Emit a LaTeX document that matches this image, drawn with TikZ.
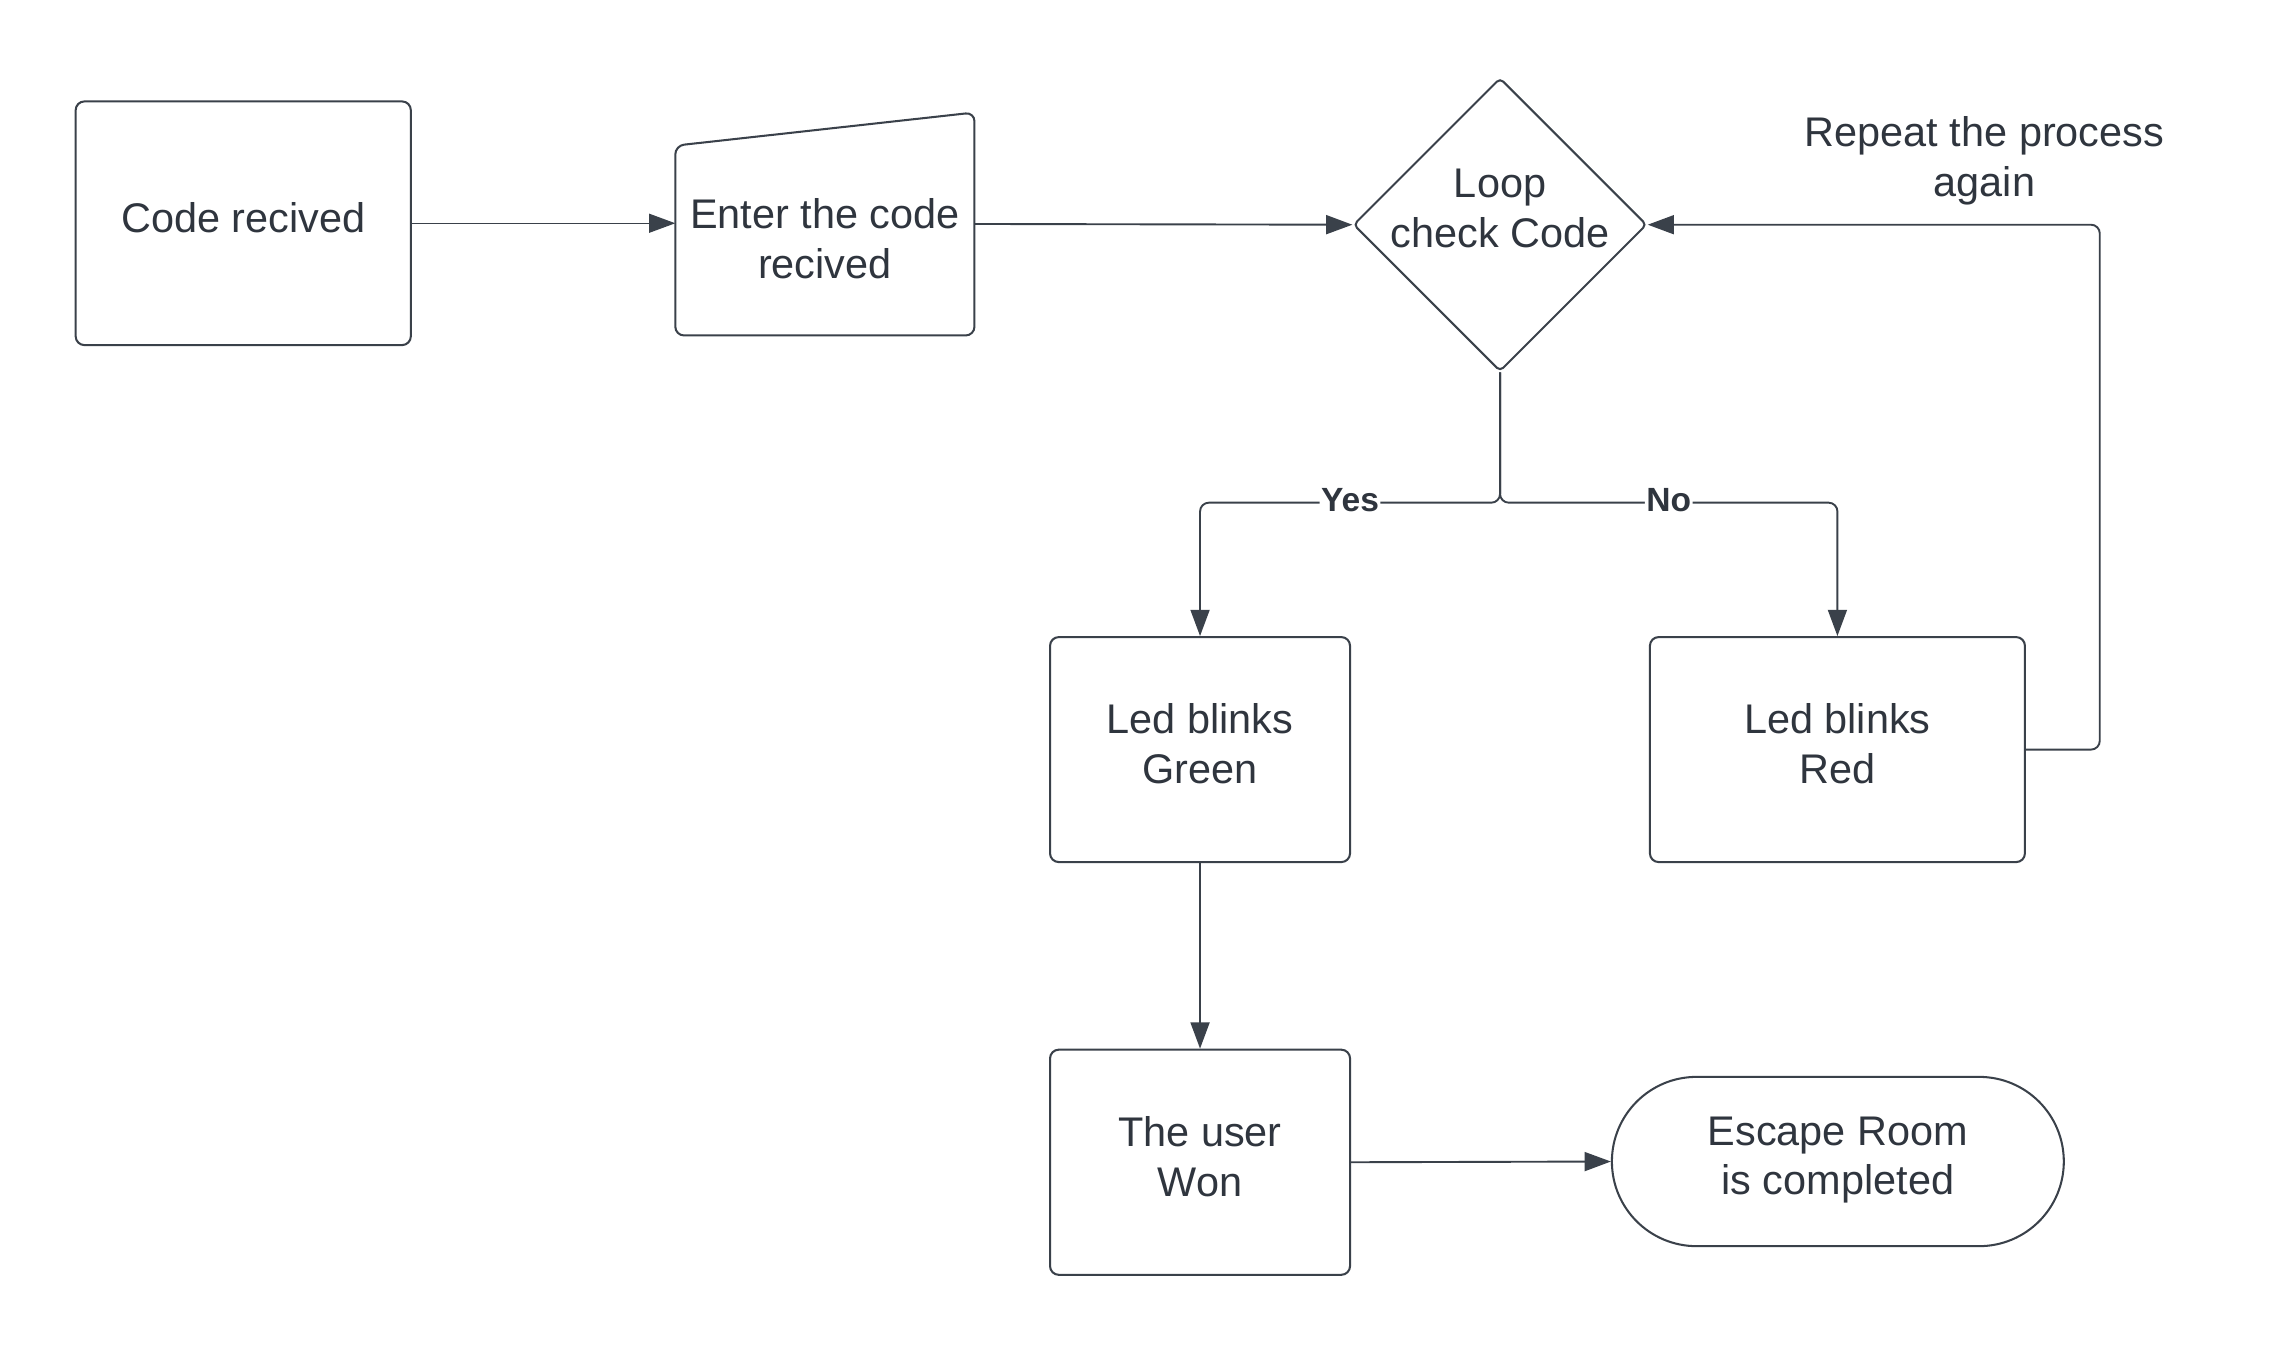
\documentclass[tikz,border=0pt]{standalone}
\usepackage{fontspec}
\setmainfont{Liberation Sans}
\usetikzlibrary{arrows.meta,shapes.geometric,shapes.misc,calc}
\definecolor{ink}{HTML}{3A414A}
\definecolor{txt}{HTML}{2F353E}
\begin{document}
\begin{tikzpicture}[x=1pt,y=-1pt,
  txtstyle/.style={text=txt,align=center,font=\fontsize{28.4}{34}\selectfont,inner sep=0pt},
  box/.style={txtstyle,draw=ink,line width=1.4pt,rounded corners=6pt,text depth=8pt},
  conn/.style={draw=ink,line width=1.3pt,-{Triangle[length=18pt,width=13pt]}},
  lbl/.style={fill=white,text=txt,font=\bfseries\fontsize{23}{27}\selectfont,inner sep=1pt,yshift=2pt}]
\useasboundingbox (0,0) rectangle (1568,925);

% nodes
\node[box,minimum width=229.7pt,minimum height=167pt] (code) at (166.7,153) {Code recived};
\node[draw=none,minimum width=204.6pt,minimum height=152.4pt,inner sep=0pt] (enter) at (565.3,153.5) {};
\draw[ink,line width=1.4pt,rounded corners=6pt] (enter.south west) -- (enter.south east) -- (enter.north east) -- ($(enter.north west)+(0,22.7)$) -- cycle;
\node[txtstyle] (enterlbl) at (565.3,163.5) {Enter the code\\recived};

\node[draw=ink,line width=1.4pt,diamond,aspect=1,minimum size=201pt,inner sep=0pt,rounded corners=3pt] (loop) at (1028,154) {};
\node[txtstyle] (looplbl) at (1028,143) {Loop\\check Code};

\node[txtstyle] (repeat) at (1360,110) {Repeat the process\\again};

\node[box,minimum width=205.6pt,minimum height=154.2pt] (green) at (822.4,513.7) {Led blinks\\Green};
\node[box,minimum width=257pt,minimum height=154.2pt] (red) at (1259.2,513.7) {Led blinks\\Red};
\node[box,minimum width=205.6pt,minimum height=154.3pt] (won) at (822.4,796.5) {The user\\Won};
\node[box,sharp corners,rounded rectangle,minimum width=309.7pt,minimum height=116pt] (done) at (1259.5,796) {Escape Room\\is completed};

% connectors
\draw[conn,line width=1pt] (code.east) -- (code.east -| enter.west);
\draw[conn] (enter.east) -- (loop.west);
\coordinate (j) at (1028,344.5);
\draw[conn,rounded corners=6pt] (loop.south) -- (j) -| node[lbl,pos=0.25]{Yes} (green.north);
\draw[conn,rounded corners=6pt] (loop.south) -- (j) -| node[lbl,pos=0.25]{No} (red.north);
\coordinate (fb) at (1439,154);
\draw[conn,rounded corners=6pt] (red.east) -| (fb) -- (loop.east);
\draw[conn] (green) -- (won);
\draw[conn] (won.east) -- (done.west);
\end{tikzpicture}
\end{document}
